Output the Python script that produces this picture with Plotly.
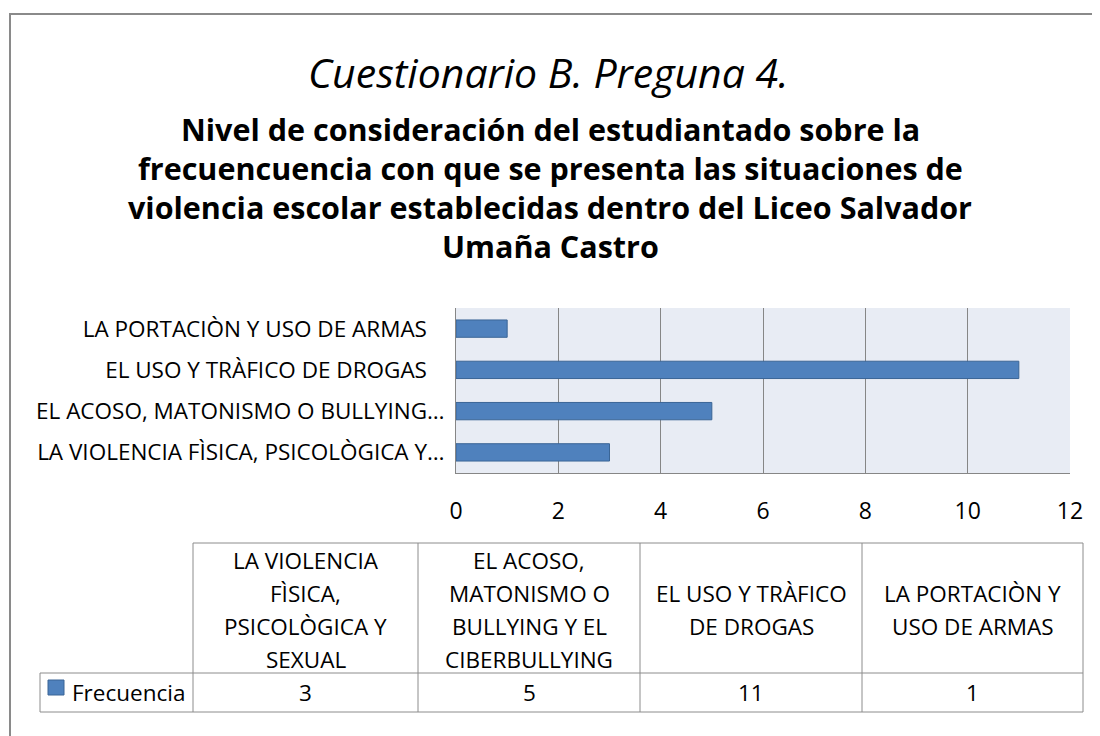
import plotly.graph_objects as go

# ---- data ----
categories = [
    "LA VIOLENCIA FÌSICA, PSICOLÒGICA Y SEXUAL",
    "EL ACOSO, MATONISMO O BULLYING Y EL CIBERBULLYING",
    "EL USO Y TRÀFICO DE DROGAS",
    "LA PORTACIÒN Y USO DE ARMAS",
]
axis_labels = [
    "LA VIOLENCIA FÌSICA, PSICOLÒGICA Y…",
    "EL ACOSO, MATONISMO O BULLYING…",
    "EL USO Y TRÀFICO DE DROGAS\u00a0\u00a0\u00a0",
    "LA PORTACIÒN Y USO DE ARMAS\u00a0\u00a0\u00a0",
]
header_lines = [
    ["LA VIOLENCIA", "FÌSICA,", "PSICOLÒGICA Y", "SEXUAL"],
    ["EL ACOSO,", "MATONISMO O", "BULLYING Y EL", "CIBERBULLYING"],
    ["EL USO Y TRÀFICO", "DE DROGAS"],
    ["LA PORTACIÒN Y", "USO DE ARMAS"],
]
series_name = "Frecuencia"
values = [3, 5, 11, 1]
x_ticks = [0, 2, 4, 6, 8, 10, 12]

title_main = "Cuestionario B. Preguna 4."
subtitle_lines = [
    "Nivel de consideración del estudiantado sobre la",
    "frecuencuencia con que se presenta las situaciones de",
    "violencia escolar establecidas dentro del Liceo Salvador",
    "Umaña Castro",
]

# ---- layout geometry (screen pixels; page body has an 8px margin) ----
OFF = 8
W, H = 1100 - OFF, 736 - OFF
PL, PR, PT, PB = 456, 1070, 308, 473
FONT = "Open Sans"
BAR = "#4F81BD"
BAR_LINE = "#3A6596"
GRID = "#868686"
TFS = 22.5


def px(x):
    return (x - PL) / (PR - PL)


def py(y):
    return (PB - y) / (PB - PT)


fig = go.Figure()
fig.add_trace(go.Bar(
    y=axis_labels, x=values, orientation="h", name=series_name,
    width=0.42,
    marker=dict(color=BAR, line=dict(color=BAR_LINE, width=1)),
    showlegend=False,
))

shapes = []
annotations = []

# outer chart border
shapes.append(dict(type="rect", xref="paper", yref="paper",
                   x0=px(10), x1=px(1200), y0=py(900), y1=py(14),
                   line=dict(color="#8A8A8A", width=2), fillcolor="rgba(0,0,0,0)",
                   layer="below"))

# title
annotations.append(dict(text=title_main, xref="paper", yref="paper",
                        x=px(548), y=py(72), showarrow=False,
                        font=dict(family=FONT, size=41, color="black", style="italic"),
                        xanchor="center", yanchor="middle"))
for i, line in enumerate(subtitle_lines):
    annotations.append(dict(text="<b>" + line + "</b>", xref="paper", yref="paper",
                            x=px(550), y=py(129 + 39 * i), showarrow=False,
                            font=dict(family=FONT, size=30.5, color="black"),
                            xanchor="center", yanchor="middle"))

# data table
col_edges = [193, 418, 640, 862, 1083]
TT, TM, TB = 543, 673, 712
TLEFT = 40
tline = dict(color="#8C8C8C", width=1)
shapes.append(dict(type="line", xref="paper", yref="paper", x0=px(col_edges[0]), x1=px(col_edges[-1]),
                   y0=py(TT), y1=py(TT), line=tline))
for yy in (TM, TB):
    shapes.append(dict(type="line", xref="paper", yref="paper", x0=px(TLEFT), x1=px(col_edges[-1]),
                       y0=py(yy), y1=py(yy), line=tline))
shapes.append(dict(type="line", xref="paper", yref="paper", x0=px(TLEFT), x1=px(TLEFT),
                   y0=py(TM), y1=py(TB), line=tline))
for xx in col_edges:
    shapes.append(dict(type="line", xref="paper", yref="paper", x0=px(xx), x1=px(xx),
                       y0=py(TT), y1=py(TB), line=tline))

for c, lines in enumerate(header_lines):
    cx = (col_edges[c] + col_edges[c + 1]) / 2
    n = len(lines)
    mid = (TT + TM) / 2 + 2
    for k, ln in enumerate(lines):
        yy = mid + (k - (n - 1) / 2) * 33
        annotations.append(dict(text=ln, xref="paper", yref="paper", x=px(cx), y=py(yy),
                                showarrow=False, font=dict(family=FONT, size=TFS, color="black"),
                                xanchor="center", yanchor="middle"))
    annotations.append(dict(text=str(values[c]), xref="paper", yref="paper", x=px(cx),
                            y=py((TM + TB) / 2), showarrow=False,
                            font=dict(family=FONT, size=TFS, color="black"),
                            xanchor="center", yanchor="middle"))

# legend key
shapes.append(dict(type="rect", xref="paper", yref="paper", x0=px(48), x1=px(64),
                   y0=py(695), y1=py(680), fillcolor=BAR, line=dict(color=BAR_LINE, width=1)))
annotations.append(dict(text=series_name, xref="paper", yref="paper", x=px(70),
                        y=py((TM + TB) / 2), showarrow=False,
                        font=dict(family=FONT, size=TFS, color="black"),
                        xanchor="left", yanchor="middle"))

fig.update_layout(
    width=W, height=H,
    margin=dict(l=PL - OFF, r=(W + OFF) - PR, t=PT - OFF, b=(H + OFF) - PB, pad=0),
    paper_bgcolor="white",
    plot_bgcolor="#E8ECF4",
    font=dict(family=FONT, size=TFS, color="black"),
    shapes=shapes,
    annotations=annotations,
    xaxis=dict(range=[0, 12], tickvals=x_ticks, showgrid=True, gridcolor=GRID, gridwidth=1,
               zeroline=False, showline=True, linecolor=GRID, linewidth=1,
               ticks="", ticklabelstandoff=17, tickfont=dict(size=23, family=FONT),
               fixedrange=True),
    yaxis=dict(categoryorder="array", categoryarray=axis_labels, showgrid=False,
               zeroline=False, showline=True, linecolor=GRID, linewidth=1,
               ticks="", ticklabelstandoff=6, tickfont=dict(size=22.5, family=FONT),
               range=[-0.5, 3.5], fixedrange=True),
)

fig.write_html("out.html")
